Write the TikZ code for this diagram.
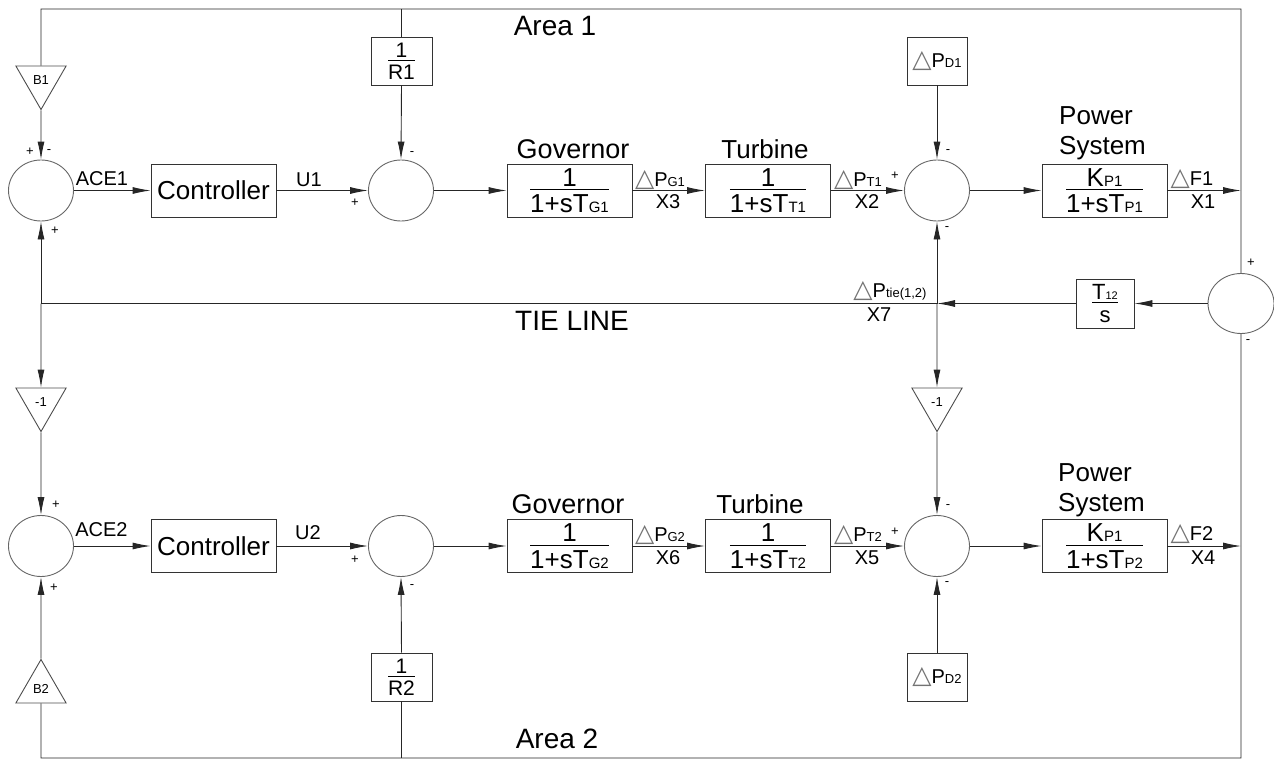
\documentclass[tikz,border=0pt]{standalone}
\usepackage{fontspec}
\usepackage{amsmath}
\setmainfont{Liberation Sans}
\newfontfamily\dvsfont{DejaVu Sans}
\usetikzlibrary{arrows.meta,shapes.geometric}
\newcommand\sz[2]{\fontsize{#1}{#2}\selectfont}
\newcommand\ssb[2]{{\fontsize{#1}{#1}\selectfont #2}}
\newcommand\dlt{{\dvsfont\color{black!55}\fontsize{25}{25}\selectfont\char"25B3}}
\newcommand\fr[2]{$\genfrac{}{}{0.9pt}{1}{\hbox{#1}}{\hbox{\rule{0pt}{\dimexpr0.716em+3pt\relax}#2}}$}
\tikzset{
  ln/.style={line width=0.9pt, draw=black!85},
  arr/.style={ln, -{Latex[length=18pt,width=7pt]}},
  blk/.style={draw=black!80, line width=0.9pt, minimum width=125pt, minimum height=53pt, inner sep=0pt, font=\sz{26}{26}},
  sum/.style={ellipse, draw=black!60, line width=0.9pt, minimum width=65pt, minimum height=61pt, inner sep=0pt},
  tri/.style={regular polygon, regular polygon sides=3, minimum size=58pt, inner sep=0pt, draw=black!70, line width=0.9pt, font=\sz{13}{13}},
  lbl/.style={inner sep=0pt, font=\sz{20}{20}},
  sgn/.style={inner sep=0pt, font=\sz{13}{13}}
}
\begin{document}
\begin{tikzpicture}[x=1pt,y=-1pt]
\useasboundingbox (0,0) rectangle (1274,760);
% ---------- Area 1 ----------
\node[sum] (s1) at (41,190.5) {};
\node[blk] (c1) at (213.5,190.5) {Controller};
\node[sum] (s2) at (401,190.5) {};
\node[blk, minimum width=61pt, minimum height=48pt, font=\sz{21}{21}] (r1) at (401.5,61) {\fr{1}{R1}};
\node[blk] (g1) at (569.5,190.5) {\fr{1}{1+sT\ssb{15}{G1}}};
\node[blk] (t1) at (768,190.5) {\fr{1}{1+sT\ssb{15}{T1}}};
\node[sum] (s3) at (937,190.5) {};
\node[blk, minimum width=60pt, minimum height=48pt, font=\sz{20}{20}] (d1) at (937,61) {\dlt P\ssb{13}{D1}};
\node[blk] (p1) at (1104.5,190.5) {\fr{K\ssb{15}{P1}}{1+sT\ssb{15}{P1}}};
\node[tri, regular polygon rotate=180] (b1) at (41,80.5) {B1};
% ---------- Tie line ----------
\node[sum, minimum width=66pt, minimum height=60pt] (s7) at (1241,303.5) {};
\node[blk, minimum width=58pt, minimum height=49pt, font=\sz{22}{22}] (ts) at (1105,303.5) {\fr{T\ssb{11}{12}}{s}};
\node[tri, regular polygon rotate=180] (m1) at (41,402.5) {-1};
\node[tri, regular polygon rotate=180] (m2) at (937,402.5) {-1};
% ---------- Area 2 ----------
\node[sum] (s4) at (41,546) {};
\node[blk] (c2) at (213.5,546) {Controller};
\node[sum] (s5) at (401,546) {};
\node[blk, minimum width=61pt, minimum height=48pt, font=\sz{21}{21}] (r2) at (401.5,677) {\fr{1}{R2}};
\node[blk] (g2) at (569.5,546) {\fr{1}{1+sT\ssb{15}{G2}}};
\node[blk] (t2) at (768,546) {\fr{1}{1+sT\ssb{15}{T2}}};
\node[sum] (s6) at (937,546) {};
\node[blk, minimum width=60pt, minimum height=48pt, font=\sz{20}{20}] (d2) at (937,677) {\dlt P\ssb{13}{D2}};
\node[blk] (p2) at (1104.5,546) {\fr{K\ssb{15}{P1}}{1+sT\ssb{15}{P2}}};
\node[tri] (b2) at (41,688.5) {B2};
% ---------- frame coordinates ----------
\coordinate (tl) at (41,9);
\coordinate (tr) at (1241,9);
\coordinate (bl) at (41,758);
\coordinate (br) at (1241,758);
\coordinate (j1) at (41,303.5);
\coordinate (j2) at (937,303.5);
% ---------- connectors Area 1 ----------
\draw[ln] (b1.north) -- (tl) -- (tr) -- (s7.north);
\draw[ln] (r1.north) -- (r1.north |- tl);
\draw[arr] (b1.south) -- (s1.north);
\draw[arr] (s1.east) -- (c1.west);
\draw[arr] (c1.east) -- (s2.west);
\draw[arr] (r1.south) -- (s2.north);
\draw[arr] (s2.east) -- (g1.west);
\draw[arr] (g1.east) -- (t1.west);
\draw[arr] (t1.east) -- (s3.west);
\draw[arr] (d1.south) -- (s3.north);
\draw[arr] (s3.east) -- (p1.west);
\draw[arr] (p1.east) -- (p1.east -| tr);
% ---------- tie line ----------
\draw[arr] (s7.west) -- (ts.east);
\draw[arr] (ts.west) -- (j2);
\draw[ln] (j2) -- (j1);
\draw[arr] (j1) -- (s1.south);
\draw[arr] (j1) -- (m1.north);
\draw[arr] (m1.south) -- (s4.north);
\draw[arr] (j2) -- (s3.south);
\draw[arr] (j2) -- (m2.north);
\draw[arr] (m2.south) -- (s6.north);
% ---------- connectors Area 2 ----------
\draw[ln] (s7.south) -- (br) -- (bl) -- (b2.south);
\draw[ln] (r2.south) -- (r2.south |- bl);
\draw[arr] (b2.north) -- (s4.south);
\draw[arr] (s4.east) -- (c2.west);
\draw[arr] (c2.east) -- (s5.west);
\draw[arr] (r2.north) -- (s5.south);
\draw[arr] (s5.east) -- (g2.west);
\draw[arr] (g2.east) -- (t2.west);
\draw[arr] (t2.east) -- (s6.west);
\draw[arr] (d2.north) -- (s6.south);
\draw[arr] (s6.east) -- (p2.west);
\draw[arr] (p2.east) -- (p2.east -| br);
% ---------- titles ----------
\node[inner sep=0pt, font=\sz{28}{28}] (a1) at (555,26) {Area 1};
\node[inner sep=0pt, font=\sz{28}{28}] (a2) at (557,739) {Area 2};
\node[inner sep=0pt, font=\sz{28}{28}] (tie) at (572,321) {TIE LINE};
\node[inner sep=0pt, font=\sz{27}{27}] (gv1) at (573,149) {Governor};
\node[inner sep=0pt, font=\sz{26}{26}] (tb1) at (765,149) {Turbine};
\node[inner sep=0pt, font=\sz{26}{30}, align=left, anchor=west] (pw1) at (1059,133) {Power\\System};
\node[inner sep=0pt, font=\sz{27}{27}] (gv2) at (568,504) {Governor};
\node[inner sep=0pt, font=\sz{26}{26}] (tb2) at (760,504) {Turbine};
\node[inner sep=0pt, font=\sz{26}{30}, align=left, anchor=west] (pw2) at (1058,490.5) {Power\\System};
% ---------- signal labels ----------
\node[lbl] (ace1) at (102,179) {ACE1};
\node[lbl] (u1) at (309,180) {U1};
\node[lbl] (pg1) at (660,180) {\dlt P\ssb{13}{G1}};
\node[lbl] (x3) at (668,202) {X3};
\node[lbl] (pt1) at (858,180) {\dlt P\ssb{13}{T1}};
\node[lbl] (x2) at (867,202) {X2};
\node[lbl] (f1) at (1192,179) {\dlt F1};
\node[lbl] (x1) at (1203,202) {X1};
\node[lbl] (ptie) at (890,291) {\dlt P\ssb{13}{tie(1,2)}};
\node[lbl] (x7) at (879,315) {X7};
\node[lbl] (ace2) at (101.5,530) {ACE2};
\node[lbl] (u2) at (308,533) {U2};
\node[lbl] (pg2) at (660,535) {\dlt P\ssb{13}{G2}};
\node[lbl] (x6) at (668,558) {X6};
\node[lbl] (pt2) at (858,535) {\dlt P\ssb{13}{T2}};
\node[lbl] (x5) at (867,558) {X5};
\node[lbl] (f2) at (1192,534) {\dlt F2};
\node[lbl] (x4) at (1203,558) {X4};
% ---------- signs ----------
\node[sgn] (g11) at (30,152) {+};
\node[sgn] (g12) at (49,152) {-};
\node[sgn] (g13) at (55,231) {+};
\node[sgn] (g21) at (412,154) {-};
\node[sgn] (g22) at (355,203) {+};
\node[sgn] (g31) at (895,176) {+};
\node[sgn] (g32) at (948,152) {-};
\node[sgn] (g33) at (947,229) {-};
\node[sgn] (g71) at (1251,263) {+};
\node[sgn] (g72) at (1248,342) {-};
\node[sgn] (g41) at (56,505) {+};
\node[sgn] (g42) at (54,588) {+};
\node[sgn] (g51) at (355,560) {+};
\node[sgn] (g52) at (412,587) {-};
\node[sgn] (g61) at (895,532) {+};
\node[sgn] (g62) at (948,507) {-};
\node[sgn] (g63) at (947,584) {-};
\end{tikzpicture}
\end{document}
